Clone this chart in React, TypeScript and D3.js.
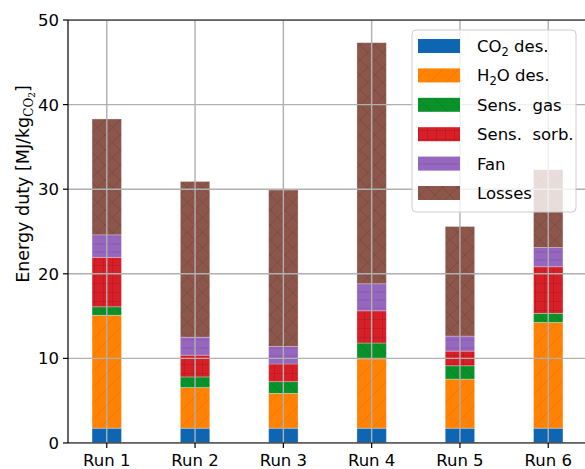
import React from 'react';
import * as d3 from 'd3';

// values (MJ per kg CO2)
const runs = ['Run 1', 'Run 2', 'Run 3', 'Run 4', 'Run 5', 'Run 6'];
const co2Des = [1.75, 1.75, 1.75, 1.75, 1.75, 1.75];
const h2oDes = [13.35, 4.8, 4.12, 8.2, 5.8, 12.5];
const sensGas = [1.0, 1.26, 1.38, 1.87, 1.58, 1.08];
const sensSorb = [5.85, 2.57, 2.09, 3.8, 1.73, 5.5];
const fan = [2.65, 2.13, 2.06, 3.2, 1.78, 2.27];
const losses = [13.7, 18.4, 18.5, 28.5, 12.95, 9.2];
const yTicks = [0, 10, 20, 30, 40, 50];

const W = 585, H = 469;
const left = 68, top = 20, right = 587, bottom = 443;
const FONT = 'DejaVu Sans, sans-serif';

const keys = ['co2', 'h2o', 'gas', 'sorb', 'fan', 'loss'];
const colors: Record<string, string> = {
  co2: '#0e66b2', h2o: '#ff8205', gas: '#0a922a', sorb: '#d71f27', fan: '#9567be', loss: '#8c564b',
};

const App: React.FC = () => {
  const rows = runs.map((r, i) => ({
    run: r, co2: co2Des[i], h2o: h2oDes[i], gas: sensGas[i], sorb: sensSorb[i], fan: fan[i], loss: losses[i],
  }));
  const stacked = d3.stack<any>().keys(keys)(rows);

  const x = d3.scalePoint<string>().domain(runs).range([left, right]).padding(0.439);
  const barW = x.step() * 0.333;
  const y = d3.scaleLinear().domain([0, 50]).range([bottom, top]);

  const legendItems = [
    { key: 'co2', label: <>CO<tspan fontSize="11.5" dy="4">2</tspan><tspan dy="-4"> des.</tspan></> },
    { key: 'h2o', label: <>H<tspan fontSize="11.5" dy="4">2</tspan><tspan dy="-4">O des.</tspan></> },
    { key: 'gas', label: 'Sens.  gas' },
    { key: 'sorb', label: 'Sens.  sorb.' },
    { key: 'fan', label: 'Fan' },
    { key: 'loss', label: 'Losses' },
  ];

  return (
    <svg width={W} height={H} style={{ position: 'absolute', left: 0, top: 0 }} fontFamily={FONT}>
      <defs>
        <pattern id="h-co2" width="10" height="10" patternUnits="userSpaceOnUse">
          <rect width="10" height="10" fill={colors.co2} />
        </pattern>
        <pattern id="h-h2o" width="16" height="16" patternUnits="userSpaceOnUse">
          <rect width="16" height="16" fill={colors.h2o} />
          <path d="M0,16L16,0M-4,4L4,-4M12,20L20,12" stroke="#9a4c00" strokeOpacity="0.22" strokeWidth="0.8" />
        </pattern>
        <pattern id="h-gas" width="16" height="16" patternUnits="userSpaceOnUse">
          <rect width="16" height="16" fill={colors.gas} />
          <path d="M0,0L16,16M-4,12L4,20M12,-4L20,4" stroke="#003a10" strokeOpacity="0.22" strokeWidth="0.8" />
        </pattern>
        <pattern id="h-sorb" width="9" height="9" patternUnits="userSpaceOnUse">
          <rect width="9" height="9" fill={colors.sorb} />
          <path d="M4.5,0V9M0,4.5H9" stroke="#6a0008" strokeOpacity="0.22" strokeWidth="0.8" />
        </pattern>
        <pattern id="h-fan" width="8" height="8" patternUnits="userSpaceOnUse">
          <rect width="8" height="8" fill={colors.fan} />
          <path d="M0,4H8" stroke="#4a2a70" strokeOpacity="0.22" strokeWidth="0.8" />
        </pattern>
        <pattern id="h-loss" width="15" height="15" patternUnits="userSpaceOnUse">
          <rect width="15" height="15" fill={colors.loss} />
          <path d="M0,0L15,15M0,15L15,0" stroke="#2a1510" strokeOpacity="0.2" strokeWidth="0.8" />
        </pattern>
        <clipPath id="plot-clip">
          <rect x={left} y={top} width={right - left} height={bottom - top} />
        </clipPath>
      </defs>

      {/* stacked bars */}
      <g>
        {stacked.map((s) => (
          <g key={s.key}>
            {s.map((d, i) => (
              <rect
                key={i}
                x={(x(runs[i]) as number) - barW / 2}
                y={y(d[1])}
                width={barW}
                height={y(d[0]) - y(d[1])}
                fill={`url(#h-${s.key})`}
                stroke="#ffffff"
                strokeOpacity="0.35"
                strokeWidth="0.8"
              />
            ))}
          </g>
        ))}
      </g>

      {/* grid on top of bars */}
      <g stroke="#b0b0b0" strokeWidth="1.4" clipPath="url(#plot-clip)">
        {yTicks.map((t) => (
          <line key={'gy' + t} x1={left} x2={right} y1={y(t)} y2={y(t)} />
        ))}
        {runs.map((r) => (
          <line key={'gx' + r} x1={x(r)} x2={x(r)} y1={top} y2={bottom} />
        ))}
      </g>

      {/* spines */}
      <g stroke="#000" strokeWidth="1.2" fill="none">
        <line x1={left} x2={left} y1={top} y2={bottom} />
        <line x1={left} x2={right} y1={bottom} y2={bottom} />
        <line x1={left} x2={right} y1={top} y2={top} />
        <line x1={right} x2={right} y1={top} y2={bottom} />
      </g>

      {/* y ticks */}
      <g fontSize="16.5" textAnchor="end">
        {yTicks.map((t) => (
          <g key={'yt' + t}>
            <line x1={left - 5} x2={left} y1={y(t)} y2={y(t)} stroke="#000" strokeWidth="1.2" />
            <text x={left - 9} y={y(t)} dy="0.36em" fill="#000">{t}</text>
          </g>
        ))}
      </g>

      {/* x ticks */}
      <g fontSize="16.5" textAnchor="middle">
        {runs.map((r) => (
          <g key={'xt' + r}>
            <line x1={x(r)} x2={x(r)} y1={bottom} y2={bottom + 5} stroke="#000" strokeWidth="1.2" />
            <text x={x(r)} y={466} fill="#000">{r}</text>
          </g>
        ))}
      </g>

      {/* y axis label */}
      <text transform="translate(29,184) rotate(-90)" textAnchor="middle" fontSize="17.5" fill="#000">
        Energy duty [MJ/kg<tspan fontSize="12" dy="4" fontFamily="DejaVu Serif, serif">CO</tspan><tspan fontSize="9" dy="2" fontFamily="DejaVu Serif, serif">2</tspan><tspan dy="-6">]</tspan>
      </text>

      {/* legend */}
      <g>
        <rect x={412} y={30} width={164} height={182} rx={4} fill="#ffffff" fillOpacity="0.8" stroke="#cccccc" strokeWidth="1" />
        {legendItems.map((it, i) => {
          const cy = 46 + i * 29.4;
          return (
            <g key={it.key}>
              <rect x={418} y={cy - 7} width={42} height={14} fill={`url(#h-${it.key})`} />
              <text x={477} y={cy} dy="0.36em" fontSize="16.5" fill="#000" xmlSpace="preserve">{it.label}</text>
            </g>
          );
        })}
      </g>
    </svg>
  );
};

export default App;
